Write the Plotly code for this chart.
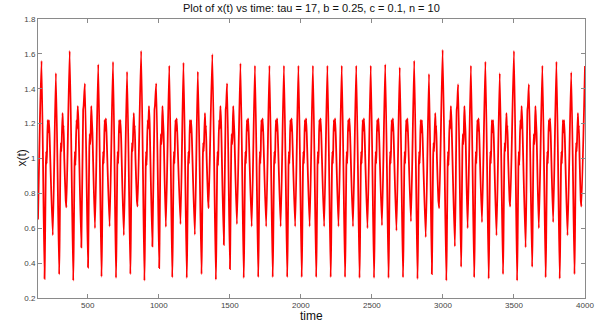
import plotly.graph_objects as go

# Key points (time, x(t)); one row per oscillation
time = [
    150, 163, 175, 196,
    200, 205, 208, 211, 214, 218, 223, 227, 232, 254, 276, 299,
    303, 308, 311, 314, 317, 323, 327, 330, 335, 345, 347, 350, 373, 398,
    402, 407, 410, 413, 416, 421, 425, 430, 435, 455, 468, 471, 480, 502,
    506, 511, 514, 517, 520, 525, 529, 533, 551, 574, 597,
    601, 606, 609, 612, 615, 619, 624, 628, 633, 654, 678, 699,
    703, 708, 711, 714, 717, 721, 726, 730, 735, 754, 777, 800,
    804, 809, 812, 815, 818, 824, 828, 831, 836, 846, 848, 851, 876, 899,
    903, 908, 911, 914, 917, 922, 926, 931, 936, 955, 970, 973, 982, 1003,
    1007, 1012, 1015, 1018, 1021, 1026, 1030, 1034, 1050, 1074, 1095,
    1099, 1104, 1107, 1110, 1113, 1117, 1122, 1126, 1131, 1153, 1174, 1197,
    1201, 1206, 1209, 1212, 1215, 1219, 1224, 1228, 1233, 1254, 1275, 1301,
    1305, 1310, 1313, 1316, 1319, 1325, 1329, 1332, 1337, 1347, 1349, 1351, 1377, 1402,
    1406, 1411, 1414, 1417, 1420, 1425, 1429, 1434, 1439, 1458, 1471, 1474, 1481, 1501,
    1505, 1510, 1513, 1516, 1519, 1524, 1528, 1532, 1550, 1575, 1598,
    1602, 1607, 1610, 1613, 1616, 1620, 1625, 1629, 1634, 1654, 1677, 1700,
    1704, 1709, 1712, 1715, 1718, 1722, 1727, 1731, 1736, 1756, 1779, 1802,
    1806, 1811, 1814, 1817, 1820, 1824, 1829, 1833, 1838, 1858, 1881, 1904,
    1908, 1913, 1916, 1919, 1922, 1926, 1931, 1935, 1940, 1960, 1983, 2006,
    2010, 2015, 2018, 2021, 2024, 2028, 2033, 2037, 2042, 2062, 2085, 2108,
    2112, 2117, 2120, 2123, 2126, 2130, 2135, 2139, 2144, 2164, 2187, 2210,
    2214, 2219, 2222, 2225, 2228, 2232, 2237, 2241, 2246, 2265, 2288, 2311,
    2315, 2320, 2323, 2326, 2329, 2333, 2338, 2342, 2347, 2367, 2390, 2413,
    2417, 2422, 2425, 2428, 2431, 2435, 2440, 2444, 2449, 2469, 2492, 2515,
    2519, 2524, 2527, 2530, 2533, 2537, 2542, 2546, 2551, 2571, 2594, 2617,
    2621, 2626, 2629, 2632, 2635, 2639, 2644, 2648, 2653, 2673, 2696, 2719,
    2723, 2728, 2731, 2734, 2737, 2741, 2746, 2750, 2755, 2775, 2798, 2821,
    2825, 2830, 2833, 2836, 2839, 2843, 2848, 2852, 2857, 2879, 2902, 2922,
    2926, 2931, 2934, 2937, 2940, 2946, 2950, 2953, 2958, 2968, 2970, 2974, 2998, 3024,
    3028, 3033, 3036, 3039, 3042, 3047, 3051, 3056, 3061, 3084, 3097, 3100, 3107, 3128,
    3132, 3137, 3140, 3143, 3146, 3151, 3155, 3159, 3174, 3197, 3220,
    3224, 3229, 3232, 3235, 3238, 3242, 3247, 3251, 3256, 3275, 3299, 3322,
    3326, 3331, 3334, 3337, 3340, 3344, 3349, 3353, 3358, 3377, 3400, 3423,
    3427, 3432, 3435, 3438, 3441, 3447, 3451, 3454, 3459, 3469, 3471, 3474, 3500, 3522,
    3526, 3531, 3534, 3537, 3540, 3545, 3549, 3554, 3559, 3582, 3595, 3598, 3605, 3628,
    3632, 3637, 3640, 3643, 3646, 3651, 3655, 3659, 3675, 3700, 3723,
    3727, 3732, 3735, 3738, 3741, 3745, 3750, 3754, 3759, 3776, 3799, 3822,
    3826, 3831, 3834, 3837, 3840, 3844, 3849, 3853, 3858, 3877, 3903, 3926,
    3930, 3935, 3938, 3941, 3944, 3950, 3954, 3957, 3962, 3970, 3972, 3975, 4000,
]

x_t = [
    0.65, 1.2, 1.56, 0.31,
    0.55, 0.95, 1.04, 0.97, 1.05, 1.22, 1.15, 1.22, 1.12, 0.56, 1.49, 0.335,
    0.6, 1.0, 1.09, 1.04, 1.10, 1.26, 1.16, 1.19, 1.0, 0.76, 0.745, 0.72, 1.617, 0.30,
    0.55, 0.95, 1.04, 0.96, 1.05, 1.22, 1.17, 1.30, 1.2, 0.49, 1.28, 1.30, 1.43, 0.375,
    0.65, 1.05, 1.14, 1.08, 1.12, 1.30, 1.22, 1.15, 0.60, 1.54, 0.322,
    0.55, 0.95, 1.04, 0.97, 1.05, 1.22, 1.16, 1.23, 1.13, 0.61, 1.555, 0.315,
    0.55, 0.95, 1.04, 0.97, 1.05, 1.22, 1.15, 1.22, 1.12, 0.56, 1.498, 0.337,
    0.6, 1.0, 1.09, 1.04, 1.10, 1.26, 1.16, 1.19, 1.0, 0.76, 0.745, 0.725, 1.617, 0.30,
    0.55, 0.95, 1.04, 0.96, 1.05, 1.22, 1.17, 1.30, 1.2, 0.496, 1.28, 1.30, 1.431, 0.372,
    0.65, 1.05, 1.14, 1.08, 1.12, 1.30, 1.22, 1.15, 0.608, 1.533, 0.318,
    0.55, 0.95, 1.04, 0.97, 1.05, 1.22, 1.16, 1.23, 1.13, 0.624, 1.55, 0.315,
    0.55, 0.95, 1.04, 0.97, 1.05, 1.22, 1.15, 1.22, 1.12, 0.563, 1.498, 0.337,
    0.6, 1.0, 1.09, 1.04, 1.10, 1.26, 1.16, 1.19, 1.0, 0.76, 0.745, 0.715, 1.598, 0.305,
    0.55, 0.95, 1.04, 0.96, 1.05, 1.22, 1.17, 1.30, 1.2, 0.505, 1.28, 1.30, 1.431, 0.366,
    0.65, 1.05, 1.14, 1.08, 1.12, 1.30, 1.22, 1.15, 0.624, 1.546, 0.315,
    0.55, 0.95, 1.04, 0.97, 1.05, 1.22, 1.16, 1.23, 1.13, 0.61, 1.533, 0.32,
    0.55, 0.95, 1.04, 0.97, 1.05, 1.22, 1.16, 1.23, 1.13, 0.61, 1.533, 0.32,
    0.55, 0.95, 1.04, 0.97, 1.05, 1.22, 1.16, 1.23, 1.13, 0.61, 1.533, 0.32,
    0.55, 0.95, 1.04, 0.97, 1.05, 1.22, 1.16, 1.23, 1.13, 0.61, 1.533, 0.32,
    0.55, 0.95, 1.04, 0.97, 1.05, 1.22, 1.16, 1.23, 1.13, 0.61, 1.533, 0.32,
    0.55, 0.95, 1.04, 0.97, 1.05, 1.22, 1.16, 1.23, 1.13, 0.61, 1.533, 0.32,
    0.55, 0.95, 1.04, 0.97, 1.05, 1.22, 1.16, 1.23, 1.13, 0.61, 1.533, 0.32,
    0.55, 0.95, 1.04, 0.97, 1.05, 1.22, 1.16, 1.23, 1.13, 0.61, 1.533, 0.315,
    0.55, 0.95, 1.04, 0.97, 1.05, 1.22, 1.16, 1.23, 1.13, 0.60, 1.533, 0.315,
    0.55, 0.95, 1.04, 0.97, 1.05, 1.22, 1.16, 1.23, 1.13, 0.617, 1.54, 0.315,
    0.55, 0.95, 1.04, 0.97, 1.05, 1.22, 1.16, 1.23, 1.13, 0.586, 1.523, 0.318,
    0.55, 0.95, 1.04, 0.97, 1.05, 1.22, 1.16, 1.23, 1.13, 0.639, 1.561, 0.309,
    0.55, 0.95, 1.04, 0.97, 1.05, 1.22, 1.15, 1.22, 1.12, 0.549, 1.485, 0.337,
    0.6, 1.0, 1.09, 1.04, 1.10, 1.26, 1.16, 1.19, 1.0, 0.76, 0.745, 0.715, 1.623, 0.30,
    0.55, 0.95, 1.04, 0.96, 1.05, 1.22, 1.17, 1.30, 1.2, 0.496, 1.28, 1.30, 1.426, 0.378,
    0.65, 1.05, 1.14, 1.08, 1.12, 1.30, 1.22, 1.15, 0.60, 1.533, 0.318,
    0.55, 0.95, 1.04, 0.97, 1.05, 1.22, 1.16, 1.23, 1.13, 0.635, 1.556, 0.311,
    0.55, 0.95, 1.04, 0.97, 1.05, 1.22, 1.15, 1.22, 1.12, 0.559, 1.489, 0.337,
    0.6, 1.0, 1.09, 1.04, 1.10, 1.26, 1.16, 1.19, 1.0, 0.76, 0.745, 0.725, 1.617, 0.30,
    0.55, 0.95, 1.04, 0.96, 1.05, 1.22, 1.17, 1.30, 1.2, 0.49, 1.28, 1.30, 1.426, 0.378,
    0.65, 1.05, 1.14, 1.08, 1.12, 1.30, 1.22, 1.15, 0.60, 1.533, 0.318,
    0.55, 0.95, 1.04, 0.97, 1.05, 1.22, 1.16, 1.23, 1.13, 0.635, 1.556, 0.311,
    0.55, 0.95, 1.04, 0.97, 1.05, 1.22, 1.15, 1.22, 1.12, 0.559, 1.495, 0.337,
    0.6, 1.0, 1.09, 1.04, 1.10, 1.26, 1.16, 1.19, 1.0, 0.76, 0.745, 0.725, 1.53,
]

assert len(time) == len(x_t), (len(time), len(x_t))

x_ticks = [500, 1000, 1500, 2000, 2500, 3000, 3500, 4000]
y_ticks = [0.2, 0.4, 0.6, 0.8, 1.0, 1.2, 1.4, 1.6, 1.8]
y_tick_labels = ["0.2", "0.4", "0.6", "0.8", "1", "1.2", "1.4", "1.6", "1.8"]

title_text = "Plot of x(t) vs time: tau = 17, b = 0.25, c = 0.1, n = 10"

FONT = "Liberation Sans, Arial, sans-serif"
AXIS_GRAY = "#8a8a8a"

fig = go.Figure(
    go.Scatter(
        x=time, y=x_t, mode="lines",
        line=dict(color="#ff0000", width=1.8, shape="spline", smoothing=0.5),
        hoverinfo="skip", showlegend=False,
    )
)

axis_common = dict(
    showgrid=False, zeroline=False, showline=True, linecolor=AXIS_GRAY, linewidth=1,
    mirror="ticks", ticks="inside", ticklen=4, tickwidth=1, tickcolor=AXIS_GRAY,
    tickfont=dict(family=FONT, size=8, color="#444444"),
)

fig.update_layout(
    width=604, height=323,
    margin=dict(l=38, r=10, t=19, b=25),
    paper_bgcolor="white", plot_bgcolor="white",
    xaxis=dict(range=[150, 4000], tickvals=x_ticks, ticktext=[str(v) for v in x_ticks],
               ticklabelstandoff=-1, **axis_common),
    yaxis=dict(range=[0.2, 1.8], tickvals=y_ticks, ticktext=y_tick_labels, **axis_common),
    annotations=[
        dict(text=title_text, xref="paper", yref="paper", x=0.5, y=1, yshift=11,
             xanchor="center", yanchor="middle", showarrow=False,
             font=dict(family=FONT, size=11, color="#111111")),
        dict(text="time", xref="paper", yref="paper", x=0.5, y=0, yshift=-18,
             xanchor="center", yanchor="middle", showarrow=False, borderpad=0,
             font=dict(family=FONT, size=12, color="#111111")),
        dict(text="x(t)", xref="paper", yref="paper", x=0, y=0.5, xshift=-17,
             xanchor="center", yanchor="middle", textangle=-90, showarrow=False,
             font=dict(family=FONT, size=12, color="#111111")),
    ],
)

fig.write_html("out.html", config={"displayModeBar": False, "staticPlot": True})

# remove the browser's default 8px page margin so the figure sits at the top-left corner
with open("out.html", "r", encoding="utf-8") as fh:
    html = fh.read()
html = html.replace("<head>", "<head><style>html,body{margin:0;padding:0;overflow:hidden;}</style>", 1)
with open("out.html", "w", encoding="utf-8") as fh:
    fh.write(html)
